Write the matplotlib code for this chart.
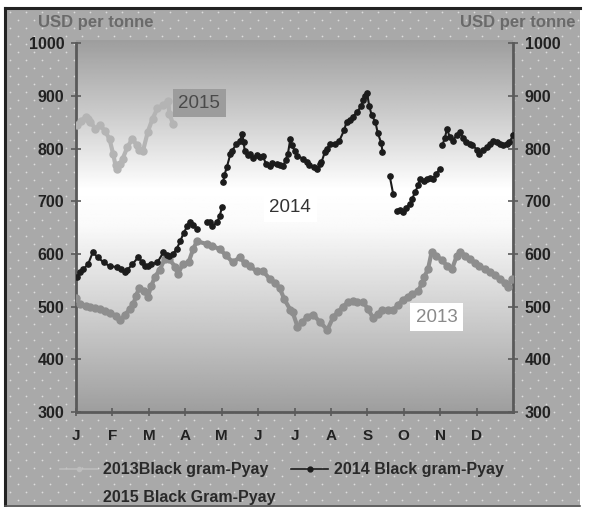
import numpy as np
import matplotlib
matplotlib.use("Agg")
import matplotlib.pyplot as plt
from matplotlib.lines import Line2D
from matplotlib.patches import Rectangle

nan = np.nan
FONT = "Liberation Sans"
plt.rcParams['font.family'] = [FONT, 'DejaVu Sans']

# ---------------- data (day of year, USD per tonne) ----------------
days_2013 = [0, 3, 8, 12, 16, 20, 24, 28, 33, 37, 41, 45, 48, 50, 53, 57, 60, 63, 66, 70,
             74, 78, 83, 85, 89, 94, 98, 101, 109, 114, 120, 125, 131, 137, 141, 145, 151,
             156, 162, 166, 170, 174, 179, 181, 185, 189, 193, 198, 204, 210, 215, 219, 223,
             227, 231, 235, 240, 244, 248, 252, 256, 261, 265, 269, 273, 277, 281, 286, 289,
             291, 294, 297, 301, 306, 310, 314, 318, 321, 325, 329, 333, 337, 342, 346, 350,
             354, 358, 361, 364]
price_2013 = [517, 505, 502, 500, 497, 495, 492, 488, 483, 474, 485, 495, 505, 520, 536, 530,
              519, 540, 557, 570, 590, 590, 575, 561, 580, 584, 610, 624, 619, 615, 609, 598,
              584, 594, 582, 577, 567, 568, 552, 545, 536, 514, 494, 489, 462, 470, 481, 485,
              470, 456, 481, 490, 500, 508, 510, 508, 508, 495, 479, 486, 494, 494, 494, 503,
              513, 518, 523, 530, 545, 557, 571, 603, 596, 588, 577, 571, 596, 603, 597, 590,
              583, 577, 571, 565, 560, 552, 545, 538, 552]

days_2014 = [1, 3, 6, 10, 14, 18, 23, 28, 34, 38, 41, 43, 47, 52, 55, 58, 60, 63, 68, 73,
             76, 78, 81, 84, 87, 90, 93, 95, 98, 101, 105,
             109, 112, 114, 118, 120, 122, 122.5,
             123, 124, 126, 129, 130, 134, 137, 139, 140, 141, 144, 145, 148, 151, 154, 156,
             159, 162, 164, 168, 170, 173, 175, 177, 179, 180, 183, 185, 190, 193, 195, 199,
             201, 204, 205, 208, 210, 212, 216, 220, 224, 226, 229, 231, 235, 238, 240, 241,
             243, 245, 247, 250, 252, 255, 256, 259,
             262, 265, 266.5,
             268, 271, 273, 276, 279, 281, 283, 286, 287, 291, 293, 296, 298, 301, 304, 305,
             306, 308, 310, 312, 315, 318, 321, 323, 326, 329, 331, 335, 337, 340, 343, 346,
             348, 352, 354, 357, 360, 362, 365]
price_2014 = [557, 565, 571, 580, 603, 594, 584, 577, 575, 572, 565, 570, 580, 594, 585, 577,
              577, 580, 584, 603, 598, 596, 600, 609, 624, 640, 653, 660, 655, 647, nan,
              660, 660, 653, 660, 672, 689, nan,
              737, 750, 765, 790, 795, 808, 815, 828, 812, 795, 787, 790, 783, 787, 784, 785,
              770, 766, 772, 770, 768, 766, 778, 790, 818, 806, 795, 785, 781, 775, 768, 765,
              762, 770, 774, 794, 800, 809, 809, 815, 835, 851, 855, 860, 870, 880, 892, 900,
              906, 880, 863, 851, 830, 810, 794, nan,
              748, 713, nan,
              681, 683, 679, 688, 695, 705, 717, 730, 743, 738, 743, 745, 743, 752, 762, nan,
              806, 820, 838, 822, 815, 826, 832, 820, 812, 808, 806, 798, 790, 797, 803, 808,
              815, 812, 809, 807, 809, 812, 825]

days_2015 = [1, 4, 8, 10, 12, 16, 20, 24, 28, 31, 33, 34, 37, 39, 43, 47, 51, 53, 56, 60,
             64, 68, 73, 77, 78, 81]
price_2015 = [844, 852, 860, 856, 851, 838, 844, 834, 818, 790, 768, 762, 770, 781, 803, 818,
              806, 798, 796, 832, 857, 876, 882, 891, 866, 847]

month_labels = ['J', 'F', 'M', 'A', 'M', 'J', 'J', 'A', 'S', 'O', 'N', 'D']
y_ticks = [300, 400, 500, 600, 700, 800, 900, 1000]
series_labels = ['2013Black gram-Pyay', '2014 Black gram-Pyay', '2015 Black Gram-Pyay']
note_labels = ['2013', '2014', '2015']

# ---------------- figure & background ----------------
W, H = 594, 507
fig = plt.figure(figsize=(W / 100, H / 100), dpi=100, facecolor='white')

bg = fig.add_axes([0, 0, 1, 1], zorder=-10)
bg.set_xlim(0, W)
bg.set_ylim(H, 0)
bg.axis('off')
bg.add_patch(Rectangle((5, 8), 575, 499, facecolor='#a9a9a9', edgecolor='none'))
# dotted texture
xs, ys = [], []
for r, yy in enumerate(np.arange(12, 507, 8)):
    off = 0 if r % 2 == 0 else 8
    for xx in np.arange(10 + off, 580, 16):
        xs.append(xx)
        ys.append(yy)
bg.scatter(xs, ys, s=1.6, color='#dcdcdc', linewidths=0)
bg.plot([5, 5], [8, 507], color='#222222', lw=2.2)
bg.plot([5, 580], [8, 8], color='#222222', lw=2.2)
bg.plot([5, 580], [506, 506], color='#555555', lw=1.2)

# ---------------- main axes ----------------
ax_l, ax_r, ax_t, ax_b = 76, 513, 40, 412
ax = fig.add_axes([ax_l / W, 1 - ax_b / H, (ax_r - ax_l) / W, (ax_b - ax_t) / H])
ax.set_xlim(0, 365)
ax.set_ylim(300, 1006)

# gradient
t = np.linspace(0, 1, 300)
g = np.interp(t, [0, 0.2, 0.4, 0.5, 0.75, 1.0], [0.62, 0.80, 1.0, 0.98, 0.80, 0.62])
grad = np.repeat(g[:, None], 2, axis=1)
ax.imshow(grad, extent=[0, 365, 300, 1006], aspect='auto', cmap='gray',
          vmin=0, vmax=1, origin='upper', zorder=0)

c13, c14, c15 = '#8e8e8e', '#1c1c1c', '#b4b4b4'
ax.plot(days_2013, price_2013, color=c13, lw=3, marker='o', ms=5,
        mec=c13, mfc=c13, zorder=3)
ax.plot(days_2015, price_2015, color=c15, lw=3, marker='o', ms=5,
        mec=c15, mfc=c15, zorder=3)
ax.plot(days_2014, price_2014, color=c14, lw=1.5, marker='o', ms=3.8,
        mec=c14, mfc=c14, zorder=4)

# annotations
ax.text(103, 886, note_labels[2], ha='center', va='center', fontsize=13.5, color='#4a4a4a',
        bbox=dict(boxstyle='square,pad=0.3', fc='#9c9c9c', ec='none'), zorder=5)
ax.text(179, 688, note_labels[1], ha='center', va='center', fontsize=13.5, color='#333333',
        bbox=dict(boxstyle='square,pad=0.3', fc='#ffffff', ec='none'), zorder=5)
ax.text(301, 480, note_labels[0], ha='center', va='center', fontsize=13.5, color='#8a8a8a',
        bbox=dict(boxstyle='square,pad=0.3', fc='#ffffff', ec='none'), zorder=5)

# axes styling
for s in ['left', 'right', 'bottom']:
    ax.spines[s].set_color('#5a5a5a')
    ax.spines[s].set_linewidth(2)
ax.spines['top'].set_visible(False)
ax.spines['left'].set_bounds(300, 1000)
ax.spines['right'].set_bounds(300, 1000)

ax.set_xticks([i * 365 / 12 for i in range(12)])
ax.set_xticklabels(month_labels, fontsize=11, fontweight='bold', color='#222222')
ax.tick_params(axis='x', direction='inout', length=6, width=1.2, color='#5a5a5a', pad=9)

ax.set_yticks(y_ticks)
ax.set_yticklabels([str(v) for v in y_ticks], fontsize=11.5, fontweight='bold', color='#222222')
ax.tick_params(axis='y', direction='inout', length=7, width=1.2, color='#5a5a5a',
               left=True, right=True, labelleft=True, labelright=True, pad=5)

fig.text(38 / W, 1 - 22 / H, 'USD per tonne', fontsize=12, fontweight='bold',
         color='#6a6a6a', ha='left', va='center')
fig.text(575 / W, 1 - 22 / H, 'USD per tonne', fontsize=12, fontweight='bold',
         color='#6a6a6a', ha='right', va='center')

# legend
h13 = Line2D([], [], color='#bdbdbd', lw=1.2, marker='o', ms=3, mfc='#bdbdbd', mec='#bdbdbd')
h14 = Line2D([], [], color=c14, lw=1.2, marker='o', ms=3.5, mfc=c14, mec=c14)
h15 = Line2D([], [], color='#b0b0b0', lw=0.0)
leg = fig.legend([h13, h15, h14], [series_labels[0], series_labels[2], series_labels[1]],
                 ncol=2, loc='upper left', bbox_to_anchor=(50 / W, 1 - 452 / H),
                 frameon=False, prop={'family': FONT, 'weight': 'bold', 'size': 11.5},
                 handlelength=2.3, handletextpad=0.35, columnspacing=1.0,
                 labelspacing=0.8, borderpad=0.15)
for txt in leg.get_texts():
    txt.set_color('#2a2a2a')

fig.savefig('out.png', dpi=100, facecolor='white')
